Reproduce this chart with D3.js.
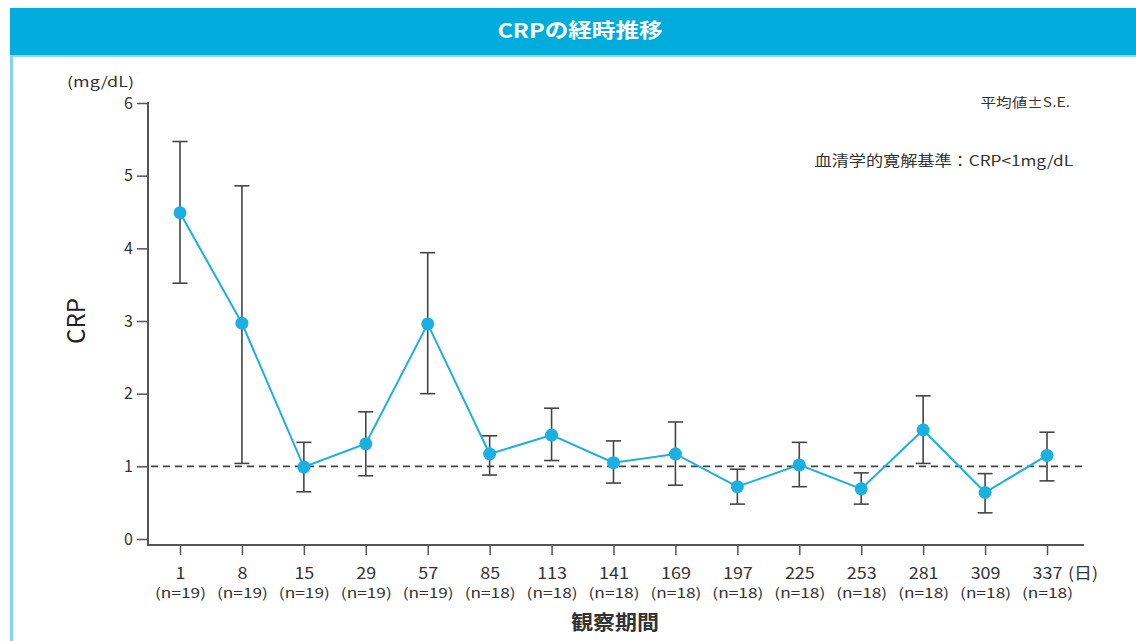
<!DOCTYPE html>
<html><head><meta charset="utf-8">
<script src="https://cdn.jsdelivr.net/npm/d3@7"></script>
<style>
html,body{margin:0;padding:0;background:#fff;}
svg{display:block;font-family:"Noto Sans CJK JP","Noto Sans",sans-serif;}
</style></head>
<body>
<svg id="c" width="1136" height="641"></svg>
<script>
const days = ["1","8","15","29","57","85","113","141","169","197","225","253","281","309","337"];
const nLabels = ["(n=19)","(n=19)","(n=19)","(n=19)","(n=19)","(n=18)","(n=18)","(n=18)","(n=18)","(n=18)","(n=18)","(n=18)","(n=18)","(n=18)","(n=18)"];
const meanVals = [4.49, 2.97, 0.99, 1.31, 2.96, 1.17, 1.43, 1.05, 1.17, 0.72, 1.02, 0.69, 1.50, 0.64, 1.15];
const upperVals = [5.47, 4.86, 1.33, 1.75, 3.94, 1.42, 1.80, 1.35, 1.61, 0.96, 1.33, 0.91, 1.97, 0.90, 1.47];
const lowerVals = [3.52, 1.04, 0.65, 0.87, 2.00, 0.88, 1.08, 0.77, 0.74, 0.48, 0.72, 0.48, 1.04, 0.36, 0.80];
const yTicks = [0,1,2,3,4,5,6];
const refValue = 1;

const svg = d3.select("#c");
const data = days.map((d,i)=>({day:d, n:nLabels[i], mean:meanVals[i], hi:upperVals[i], lo:lowerVals[i]}));
const txtColor = "#333";

// horizontally widened text helper
function stext(parent, x, y, str, size, sx, anchor, extra){
  const g = parent.append("g").attr("transform",`translate(${x},${y}) scale(${sx},1)`);
  const t = g.append("text").attr("x",0).attr("y",0).attr("font-size",size)
    .attr("text-anchor",anchor||"start").attr("fill",txtColor).text(str);
  if(extra) extra(t);
  return t;
}

// frame
svg.append("rect").attr("x",10).attr("y",8).attr("width",1126).attr("height",47).attr("fill","#00acdc");
svg.append("rect").attr("x",10).attr("y",55).attr("width",1126).attr("height",2).attr("fill","#8fd6f0");
svg.append("rect").attr("x",10).attr("y",55).attr("width",3).attr("height",586).attr("fill","#86d3f0");
stext(svg, 580, 38, "CRPの経時推移", 20, 1.18, "middle", t=>t.attr("fill","#fff").attr("font-weight","bold"));

const x = d3.scalePoint().domain(days).range([180,1047]);
const y = d3.scaleLinear().domain([0,6]).range([539,103]);
const axisColor = "#555";

// y axis
const gy = svg.append("g").attr("transform","translate(147,0)")
  .call(d3.axisLeft(y).tickValues(yTicks).tickFormat(d3.format("d")).tickSize(10).tickPadding(4).tickSizeOuter(0));
gy.select(".domain").remove();
gy.selectAll(".tick line").attr("stroke",axisColor).attr("stroke-width",1.5);
gy.selectAll(".tick text").attr("font-size",16).attr("fill",txtColor).attr("font-family","Noto Sans CJK JP");
svg.append("line").attr("x1",148).attr("x2",148).attr("y1",y(6)-1).attr("y2",546)
  .attr("stroke",axisColor).attr("stroke-width",2);

// x axis
const xAxisY = 545;
const gx = svg.append("g").attr("transform",`translate(0,${xAxisY})`)
  .call(d3.axisBottom(x).tickSize(10).tickSizeOuter(0));
gx.select(".domain").remove();
gx.selectAll(".tick line").attr("stroke",axisColor).attr("stroke-width",1.5);
gx.selectAll(".tick text").attr("font-size",16).attr("fill",txtColor).attr("font-family","Noto Sans CJK JP")
  .attr("y",34).attr("dy",0).attr("transform","scale(1.12,1)");
gx.selectAll(".tick").append("text").attr("y",53).attr("fill",txtColor).attr("font-size",13.5)
  .attr("text-anchor","middle").attr("font-family","Noto Sans CJK JP")
  .attr("transform","scale(1.28,1)").text((d,i)=>nLabels[i]);
svg.append("line").attr("x1",147).attr("x2",1084).attr("y1",xAxisY).attr("y2",xAxisY)
  .attr("stroke",axisColor).attr("stroke-width",2);
stext(svg, x("337")+21, 579, "(日)", 16, 1.12, "start");

// reference dashed line
svg.append("line").attr("x1",151).attr("x2",1084).attr("y1",y(refValue)).attr("y2",y(refValue))
  .attr("stroke","#444").attr("stroke-width",1.6).attr("stroke-dasharray","7,5");

// error bars
const eb = svg.append("g").attr("stroke","#444").attr("stroke-width",1.6);
data.forEach(d=>{
  const cx = x(d.day);
  eb.append("line").attr("x1",cx).attr("x2",cx).attr("y1",y(d.hi)).attr("y2",y(d.lo));
  eb.append("line").attr("x1",cx-7.5).attr("x2",cx+7.5).attr("y1",y(d.hi)).attr("y2",y(d.hi));
  eb.append("line").attr("x1",cx-7.5).attr("x2",cx+7.5).attr("y1",y(d.lo)).attr("y2",y(d.lo));
});

// line
const blue = "#1ab0e2";
svg.append("path").datum(data).attr("fill","none").attr("stroke",blue).attr("stroke-width",2)
  .attr("d",d3.line().x(d=>x(d.day)).y(d=>y(d.mean)));
svg.append("g").selectAll("circle").data(data).join("circle")
  .attr("cx",d=>x(d.day)).attr("cy",d=>y(d.mean)).attr("r",6.5).attr("fill",blue);

// labels
stext(svg, 67, 87, "(mg/dL)", 14, 1.28, "start");
svg.append("text").attr("transform","translate(85,321) rotate(-90)").attr("text-anchor","middle")
  .attr("font-size",24).attr("fill","#222").text("CRP");
stext(svg, 615, 630, "観察期間", 20, 1.1, "middle", t=>t.attr("font-weight","bold"));
stext(svg, 1070, 107, "平均値±S.E.", 13, 1.2, "end");
stext(svg, 1073, 166, "血清学的寛解基準：CRP<1mg/dL", 14.3, 1.2, "end");
</script>
</body></html>
